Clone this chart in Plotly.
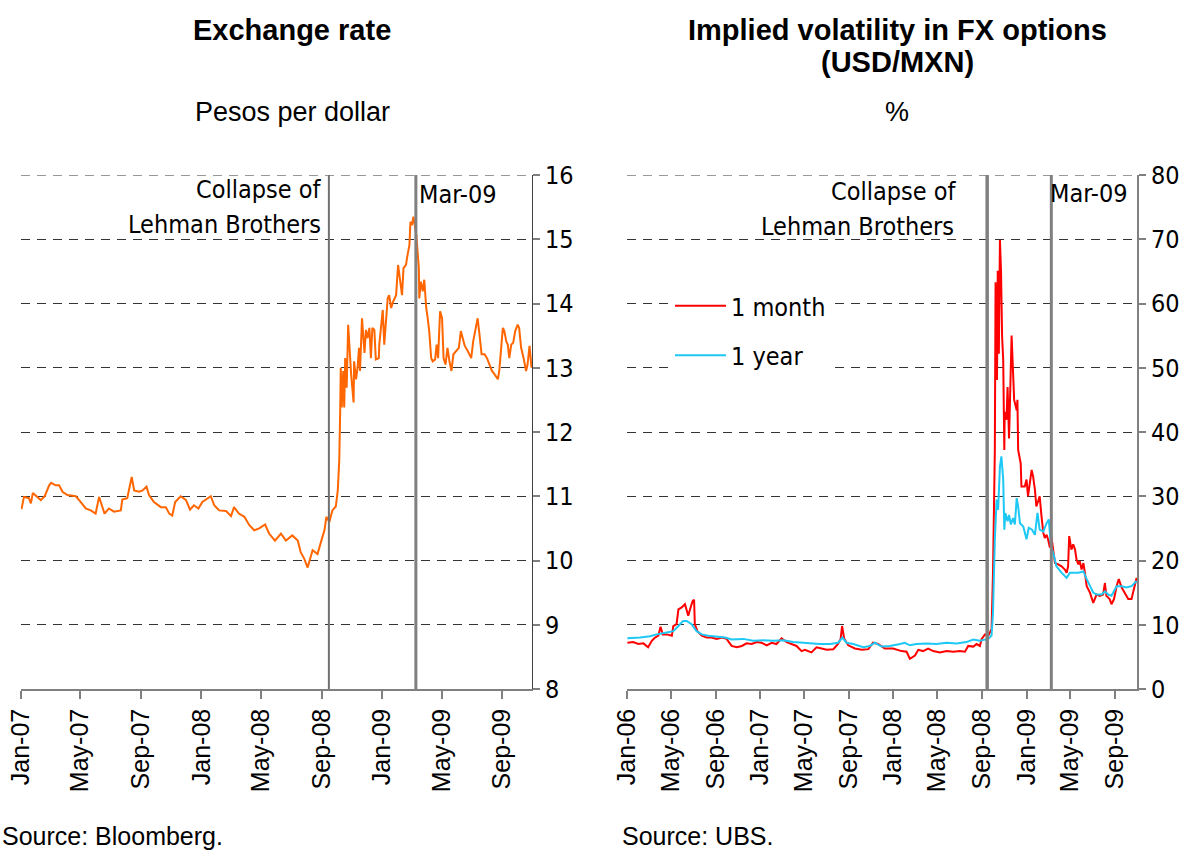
import plotly.graph_objects as go

# ---------------- data ----------------
fx_dates = [
    "2007-01-02", "2007-01-07", "2007-01-17", "2007-01-21", "2007-01-25", "2007-02-02", "2007-02-10",
    "2007-02-18", "2007-02-27", "2007-03-03", "2007-03-12", "2007-03-19", "2007-03-26", "2007-04-05",
    "2007-04-22", "2007-05-02", "2007-05-12", "2007-05-22", "2007-06-01", "2007-06-08", "2007-06-14",
    "2007-06-19", "2007-06-28", "2007-07-08", "2007-07-22", "2007-07-25", "2007-08-04", "2007-08-13",
    "2007-08-18", "2007-08-28", "2007-09-04", "2007-09-12", "2007-09-17", "2007-09-27", "2007-10-11",
    "2007-10-21", "2007-10-28", "2007-11-03", "2007-11-09", "2007-11-20", "2007-12-01", "2007-12-09",
    "2007-12-17", "2007-12-26", "2008-01-03", "2008-01-11", "2008-01-20", "2008-01-27", "2008-02-06",
    "2008-02-20", "2008-03-01", "2008-03-07", "2008-03-17", "2008-03-28", "2008-04-07", "2008-04-17",
    "2008-04-27", "2008-05-09", "2008-05-17", "2008-05-29", "2008-06-10", "2008-06-20", "2008-07-03",
    "2008-07-14", "2008-07-20", "2008-07-27", "2008-08-03", "2008-08-13", "2008-08-23", "2008-08-30",
    "2008-09-06", "2008-09-10", "2008-09-16", "2008-09-22", "2008-09-29", "2008-10-03", "2008-10-06",
    "2008-10-08", "2008-10-09", "2008-10-11", "2008-10-14", "2008-10-16", "2008-10-18", "2008-10-21",
    "2008-10-24", "2008-10-26", "2008-10-30", "2008-11-04", "2008-11-05", "2008-11-09", "2008-11-12",
    "2008-11-15", "2008-11-17", "2008-11-21", "2008-11-26", "2008-11-29", "2008-12-02", "2008-12-06",
    "2008-12-09", "2008-12-12", "2008-12-16", "2008-12-19", "2008-12-25", "2008-12-26", "2008-12-29",
    "2009-01-02", "2009-01-05", "2009-01-08", "2009-01-12", "2009-01-15", "2009-01-19", "2009-01-23",
    "2009-01-29", "2009-02-02", "2009-02-06", "2009-02-10", "2009-02-13", "2009-02-18", "2009-02-21",
    "2009-02-25", "2009-02-27", "2009-03-02", "2009-03-05", "2009-03-08", "2009-03-11", "2009-03-16",
    "2009-03-17", "2009-03-20", "2009-03-24", "2009-03-27", "2009-03-31", "2009-04-03", "2009-04-06",
    "2009-04-10", "2009-04-13", "2009-04-18", "2009-04-21", "2009-04-24", "2009-04-28", "2009-05-02",
    "2009-05-05", "2009-05-09", "2009-05-13", "2009-05-17", "2009-05-21", "2009-05-25", "2009-05-30",
    "2009-06-05", "2009-06-09", "2009-06-13", "2009-06-17", "2009-06-23", "2009-06-30", "2009-07-04",
    "2009-07-10", "2009-07-13", "2009-07-16", "2009-07-21", "2009-07-27", "2009-08-01", "2009-08-06",
    "2009-08-11", "2009-08-16", "2009-08-23", "2009-08-26", "2009-08-29", "2009-09-02", "2009-09-05",
    "2009-09-09", "2009-09-12", "2009-09-15", "2009-09-19", "2009-09-23", "2009-09-27", "2009-10-02",
    "2009-10-05", "2009-10-09", "2009-10-14", "2009-10-19", "2009-10-22", "2009-10-26", "2009-10-30",
]
fx_values = [
    10.80, 10.99, 10.97, 10.89, 11.05, 10.99, 10.94,
    11.00, 11.17, 11.21, 11.17, 11.17, 11.07, 11.02,
    11.00, 10.91, 10.81, 10.78, 10.73, 10.99, 10.83,
    10.73, 10.81, 10.76, 10.78, 10.95, 10.97, 11.30,
    11.09, 11.07, 11.09, 11.15, 11.02, 10.91, 10.83,
    10.83, 10.73, 10.70, 10.91, 11.00, 10.94, 10.79,
    10.86, 10.81, 10.91, 10.95, 11.00, 10.86, 10.78,
    10.77, 10.69, 10.83, 10.73, 10.68, 10.55, 10.47,
    10.50, 10.56, 10.42, 10.31, 10.42, 10.31, 10.39,
    10.31, 10.13, 10.03, 9.89, 10.16, 10.10, 10.29,
    10.47, 10.68, 10.60, 10.78, 10.84, 11.09, 11.56,
    12.38, 13.00, 12.38, 12.95, 12.38, 13.15, 12.69,
    13.67, 13.41, 12.90, 12.46, 13.10, 12.82, 13.00,
    13.31, 12.95, 13.77, 13.23, 13.59, 13.46, 13.62,
    13.15, 13.62, 13.59, 13.13, 13.15, 13.36, 13.62,
    13.90, 13.36, 13.62, 14.08, 14.13, 13.93, 14.03,
    14.13, 14.60, 14.34, 14.13, 14.55, 14.60, 14.75,
    14.91, 15.27, 15.22, 15.35, 15.19, 15.06, 14.55,
    14.08, 14.34, 14.19, 14.37, 13.93, 13.77, 13.57,
    13.15, 13.10, 13.13, 13.36, 13.15, 13.88, 13.77,
    13.15, 13.05, 13.31, 13.10, 12.95, 13.21, 13.26,
    13.31, 13.57, 13.46, 13.34, 13.26, 13.15, 13.41,
    13.64, 13.77, 13.57, 13.21, 13.21, 13.15, 13.05,
    12.95, 12.90, 12.82, 12.97, 13.26, 13.62, 13.57,
    13.41, 13.36, 13.15, 13.36, 13.39, 13.57, 13.67,
    13.62, 13.31, 13.15, 12.95, 13.05, 13.34, 13.00,
]

vol_1m_dates = [
    "2006-01-02", "2006-01-18", "2006-02-01", "2006-02-15", "2006-02-28", "2006-03-10", "2006-03-19",
    "2006-03-28", "2006-04-03", "2006-04-09", "2006-04-20", "2006-05-04", "2006-05-08", "2006-05-17",
    "2006-05-22", "2006-05-31", "2006-06-09", "2006-06-18", "2006-06-23", "2006-06-30", "2006-07-04",
    "2006-07-06", "2006-07-13", "2006-07-25", "2006-08-08", "2006-08-21", "2006-09-04", "2006-09-18",
    "2006-10-01", "2006-10-15", "2006-10-29", "2006-11-12", "2006-11-25", "2006-12-09", "2006-12-23",
    "2007-01-05", "2007-01-19", "2007-02-02", "2007-02-15", "2007-03-01", "2007-03-15", "2007-03-29",
    "2007-04-11", "2007-04-25", "2007-05-04", "2007-05-22", "2007-06-05", "2007-06-19", "2007-07-03",
    "2007-07-21", "2007-08-03", "2007-08-10", "2007-08-14", "2007-08-20", "2007-08-31", "2007-09-18",
    "2007-10-07", "2007-10-25", "2007-11-07", "2007-11-21", "2007-12-09", "2008-01-01", "2008-01-24",
    "2008-02-07", "2008-02-16", "2008-03-01", "2008-03-10", "2008-03-23", "2008-04-06", "2008-04-20",
    "2008-05-08", "2008-05-27", "2008-06-14", "2008-07-02", "2008-07-16", "2008-07-25", "2008-08-08",
    "2008-08-17", "2008-08-26", "2008-08-31", "2008-09-09", "2008-09-18", "2008-09-27", "2008-10-01",
    "2008-10-06", "2008-10-08", "2008-10-12", "2008-10-14", "2008-10-17", "2008-10-20", "2008-10-23",
    "2008-10-26", "2008-10-29", "2008-11-01", "2008-11-02", "2008-11-07", "2008-11-10", "2008-11-14",
    "2008-11-21", "2008-11-28", "2008-12-05", "2008-12-07", "2008-12-09", "2008-12-16", "2008-12-18",
    "2008-12-27", "2009-01-01", "2009-01-05", "2009-01-10", "2009-01-15", "2009-01-19", "2009-01-24",
    "2009-01-28", "2009-02-06", "2009-02-11", "2009-02-16", "2009-02-20", "2009-02-25", "2009-03-01",
    "2009-03-06", "2009-03-10", "2009-03-15", "2009-03-20", "2009-03-29", "2009-04-07", "2009-04-16",
    "2009-04-21", "2009-04-25", "2009-04-28", "2009-05-04", "2009-05-09", "2009-05-14", "2009-05-18",
    "2009-05-23", "2009-05-27", "2009-06-01", "2009-06-06", "2009-06-10", "2009-06-15", "2009-06-24",
    "2009-07-03", "2009-07-12", "2009-07-21", "2009-07-30", "2009-08-04", "2009-08-08", "2009-08-17",
    "2009-08-22", "2009-08-29", "2009-09-05", "2009-09-11", "2009-09-19", "2009-09-28", "2009-10-07",
    "2009-10-16", "2009-10-23", "2009-10-30",
]
vol_1m = [
    7.2, 7.3, 7.0, 7.1, 6.5, 7.5, 8.0,
    8.3, 9.7, 8.5, 8.5, 8.3, 9.8, 10.1,
    12.4, 12.7, 13.2, 11.4, 12.4, 13.7, 13.9,
    10.1, 9.0, 8.3, 8.0, 8.0, 7.8, 8.0,
    7.8, 6.7, 6.5, 6.7, 7.1, 7.0, 7.3,
    7.2, 6.8, 7.2, 7.0, 7.9, 7.3, 7.0,
    6.7, 5.9, 6.1, 5.7, 6.5, 6.3, 6.1,
    6.2, 7.0, 7.8, 9.8, 7.8, 6.8, 6.3,
    6.1, 6.2, 7.2, 7.0, 6.3, 6.3, 5.9,
    5.8, 4.7, 5.2, 6.1, 5.9, 6.3, 5.9,
    5.7, 5.9, 5.8, 5.9, 5.8, 6.7, 6.6,
    7.0, 6.7, 7.8, 8.5, 8.3, 9.3, 18.1,
    37.0, 63.3, 48.1, 65.1, 52.2, 69.9, 65.1,
    54.8, 51.2, 37.2, 43.1, 41.9, 47.0, 39.0,
    55.0, 45.0, 43.4, 45.0, 37.2, 35.1, 31.5,
    31.5, 32.6, 30.0, 32.0, 34.1, 33.1, 31.0,
    28.4, 30.0, 26.9, 24.3, 23.5, 24.0, 23.3,
    22.0, 23.8, 21.2, 19.6, 19.4, 19.1, 18.6,
    18.1, 19.1, 23.8, 21.7, 22.5, 21.7, 20.2,
    19.4, 19.9, 18.6, 19.6, 18.1, 16.0, 15.0,
    13.4, 14.7, 14.5, 14.7, 16.5, 14.5, 14.0,
    13.2, 14.0, 16.0, 17.1, 15.8, 15.0, 14.0,
    14.0, 15.5, 17.3,
]

vol_1y_dates = [
    "2006-01-02", "2006-02-06", "2006-03-05", "2006-03-23", "2006-04-20", "2006-05-08", "2006-05-22",
    "2006-06-04", "2006-06-14", "2006-06-27", "2006-07-11", "2006-07-25", "2006-08-12", "2006-09-04",
    "2006-09-27", "2006-10-15", "2006-11-16", "2006-12-13", "2007-01-10", "2007-02-06", "2007-03-06",
    "2007-04-02", "2007-04-20", "2007-05-18", "2007-06-14", "2007-07-12", "2007-08-03", "2007-08-15",
    "2007-08-26", "2007-09-14", "2007-10-11", "2007-10-29", "2007-11-12", "2007-11-30", "2007-12-23",
    "2008-01-20", "2008-02-02", "2008-02-16", "2008-03-05", "2008-04-02", "2008-04-29", "2008-05-27",
    "2008-06-23", "2008-07-20", "2008-08-08", "2008-08-26", "2008-09-09", "2008-09-18", "2008-09-27",
    "2008-10-01", "2008-10-06", "2008-10-11", "2008-10-15", "2008-10-20", "2008-10-24", "2008-10-29",
    "2008-11-01", "2008-11-04", "2008-11-10", "2008-11-14", "2008-11-19", "2008-11-25", "2008-11-30",
    "2008-12-05", "2008-12-09", "2008-12-14", "2008-12-23", "2009-01-01", "2009-01-07", "2009-01-16",
    "2009-01-24", "2009-01-31", "2009-02-06", "2009-02-16", "2009-02-25", "2009-03-03", "2009-03-09",
    "2009-03-15", "2009-03-24", "2009-04-07", "2009-04-21", "2009-04-30", "2009-05-23", "2009-06-06",
    "2009-06-15", "2009-06-24", "2009-07-03", "2009-07-12", "2009-07-26", "2009-08-04", "2009-08-13",
    "2009-08-22", "2009-09-05", "2009-09-19", "2009-10-02", "2009-10-16", "2009-10-30",
]
vol_1y = [
    7.9, 8.0, 8.2, 8.5, 8.8, 9.0, 9.8,
    10.6, 10.6, 10.1, 9.0, 8.5, 8.3, 8.2,
    8.0, 7.7, 7.8, 7.5, 7.6, 7.5, 7.6,
    7.3, 7.2, 7.1, 7.0, 7.0, 7.2, 8.0,
    7.2, 7.0, 6.5, 6.7, 7.2, 6.6, 6.7,
    7.0, 7.2, 6.8, 7.0, 7.1, 7.0, 7.2,
    7.1, 7.3, 7.7, 7.5, 7.7, 7.8, 8.3,
    11.9, 23.3, 29.5, 27.9, 34.6, 36.2, 32.6,
    24.8, 27.4, 26.1, 27.1, 25.6, 26.6, 25.6,
    29.7, 28.4, 25.8, 25.3, 23.3, 25.1, 24.8,
    24.0, 27.4, 24.8, 24.5, 25.8, 26.4, 22.2,
    21.2, 19.1, 18.1, 17.3, 18.1, 18.1, 18.3,
    17.1, 16.0, 15.0, 14.7, 14.7, 15.2, 14.7,
    14.5, 16.0, 16.0, 15.8, 16.0, 16.8,
]

event_lehman = "2008-09-15"
event_mar09 = "2009-03-10"

fx_range = ["2007-01-01", "2009-10-31"]
vol_range = ["2006-01-01", "2009-10-31"]
fx_yrange = [8, 16]
vol_yrange = [0, 80]

# ---------------- styling ----------------
W, H = 1183, 850
NARROW = "Liberation Sans Narrow, Arial Narrow, DejaVu Sans Condensed, sans-serif"
ARIAL = "Liberation Sans, Arial, sans-serif"
GREY = "#808080"
GRID = "#333333"
GRIDDASH = "9px,7px"


def px_x(p):
    return p / W


def px_y(p):
    return 1 - p / H


fig = go.Figure()

fig.add_trace(go.Scatter(x=fx_dates, y=fx_values, mode="lines", xaxis="x", yaxis="y",
                         line=dict(color="#FF6600", width=2), showlegend=False,
                         name="Pesos per dollar"))
fig.add_trace(go.Scatter(x=vol_1m_dates, y=vol_1m, mode="lines", xaxis="x2", yaxis="y2",
                         line=dict(color="#FF0000", width=2), name="1 month", legendgroup="a"))
fig.add_trace(go.Scatter(x=vol_1y_dates, y=vol_1y, mode="lines", xaxis="x2", yaxis="y2",
                         line=dict(color="#1EC8F5", width=2), name="1 year", legendgroup="b"))

ydom = [px_y(689), px_y(175)]

common_x = dict(type="date", dtick="M4", tickformat="%b-%y", tickangle=-90,
                ticks="outside", ticklen=8, tickcolor=GREY, tickwidth=1.5,
                showline=True, linecolor=GREY, linewidth=1.5, showgrid=False,
                zeroline=False, automargin=False,
                tickfont=dict(family=ARIAL, size=25, color="#000"))
common_y = dict(side="right", ticks="outside", ticklen=7, tickcolor=GREY, tickwidth=1.5,
                showline=True, showgrid=True, gridcolor=GRID, gridwidth=1,
                griddash=GRIDDASH, zeroline=False, automargin=False,
                tickfont=dict(family=NARROW, size=25, color="#000"))

fig.update_layout(
    width=W, height=H, autosize=False,
    margin=dict(l=0, r=0, t=0, b=0, pad=0, autoexpand=False),
    paper_bgcolor="white", plot_bgcolor="white",
    xaxis=dict(common_x, domain=[px_x(21), px_x(532)], range=fx_range,
               tick0="2007-01-01", anchor="y"),
    yaxis=dict(common_y, domain=ydom, range=fx_yrange, dtick=1, anchor="x",
               linecolor="#404040", linewidth=1),
    xaxis2=dict(common_x, domain=[px_x(627), px_x(1137)], range=vol_range,
                tick0="2006-01-01", anchor="y2"),
    yaxis2=dict(common_y, domain=ydom, range=vol_yrange, dtick=10, anchor="x2",
                linecolor=GREY, linewidth=2),
    legend=dict(x=px_x(670), y=px_y(283), xanchor="left", yanchor="top",
                bgcolor="white", borderwidth=0, tracegroupgap=14,
                font=dict(family=NARROW, size=25, color="#000"),
                itemwidth=51, entrywidth=150),
)

shapes = [
    # top gridlines (plotly omits gridlines at the range edge)
    dict(type="line", xref="x domain", yref="y", x0=0, x1=1, y0=fx_yrange[1], y1=fx_yrange[1],
         line=dict(color=GRID, width=1, dash=GRIDDASH), layer="below"),
    dict(type="line", xref="x2 domain", yref="y2", x0=0, x1=1, y0=vol_yrange[1], y1=vol_yrange[1],
         line=dict(color=GRID, width=1, dash=GRIDDASH), layer="below"),
    # event lines
    dict(type="line", xref="x", yref="y", x0=event_lehman, x1=event_lehman,
         y0=fx_yrange[0], y1=fx_yrange[1], line=dict(color="#707070", width=2), layer="above"),
    dict(type="line", xref="x", yref="y", x0=event_mar09, x1=event_mar09,
         y0=fx_yrange[0], y1=fx_yrange[1], line=dict(color=GREY, width=3), layer="above"),
    dict(type="line", xref="x2", yref="y2", x0=event_lehman, x1=event_lehman,
         y0=vol_yrange[0], y1=vol_yrange[1], line=dict(color=GREY, width=3.5), layer="above"),
    dict(type="line", xref="x2", yref="y2", x0=event_mar09, x1=event_mar09,
         y0=vol_yrange[0], y1=vol_yrange[1], line=dict(color=GREY, width=3), layer="above"),
]
fig.update_layout(shapes=shapes)

ann = []


def text(x, y, s, size, family=ARIAL, xanchor="center", xref="paper", xshift=0):
    ann.append(dict(x=x, y=y, xref=xref, yref="paper", text=s, showarrow=False,
                    xanchor=xanchor, yanchor="middle", xshift=xshift,
                    font=dict(family=family, size=size, color="#000")))


text(px_x(292), px_y(30), "<b>Exchange rate</b>", 29)
text(px_x(292), px_y(112), "Pesos per dollar", 27)
text(px_x(897), px_y(30), "<b>Implied volatility in FX options</b>", 29)
text(px_x(897), px_y(62), "<b>(USD/MXN)</b>", 29)
text(px_x(897), px_y(112), "%", 27)
text(0, px_y(836), "Source: Bloomberg.", 25, xanchor="left")
text(px_x(620), px_y(836), "Source: UBS.", 25, xanchor="left")

# event labels
text(event_lehman, px_y(190), "Collapse of", 25, NARROW, "right", "x", -6)
text(event_lehman, px_y(224), "Lehman Brothers", 25, NARROW, "right", "x", -6)
text(event_mar09, px_y(194), "Mar-09", 25, NARROW, "left", "x", 1)
text(event_lehman, px_y(192), "Collapse of", 25, NARROW, "right", "x2", -29)
text(event_lehman, px_y(226), "Lehman Brothers", 25, NARROW, "right", "x2", -31)
text(event_mar09, px_y(193), "Mar-09", 25, NARROW, "left", "x2", -3)

fig.update_layout(annotations=ann)

fig.write_html("out.html", config={"displayModeBar": False},
               post_script="document.body.style.margin='0';document.body.style.padding='0';")
